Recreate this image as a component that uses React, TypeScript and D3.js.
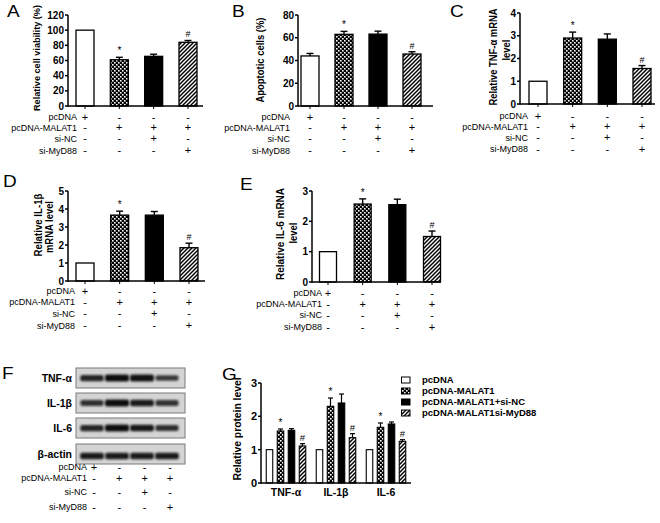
import * as d3 from 'd3';

// rows of the treatment table under each bar chart
const rowLabels = ['pcDNA', 'pcDNA-MALAT1', 'si-NC', 'si-MyD88'];
const signs = [
  ['+', '-', '-', '-'],
  ['-', '+', '+', '+'],
  ['-', '-', '+', '-'],
  ['-', '-', '-', '+'],
];
const marks = ['', '*', '', '#'];

// panel A-E values
const viability = [100, 61, 65.5, 84];
const viabilityErr = [0, 3.2, 2.8, 2.4];
const apoptosis = [44, 63, 63.2, 45.7];
const apoptosisErr = [2.2, 2.6, 2.6, 2];
const tnfMrna = [1, 2.9, 2.85, 1.56];
const tnfMrnaErr = [0, 0.26, 0.23, 0.13];
const il1bMrna = [1, 3.66, 3.66, 1.85];
const il1bMrnaErr = [0, 0.22, 0.2, 0.25];
const il6Mrna = [1, 2.57, 2.55, 1.5];
const il6MrnaErr = [0, 0.17, 0.18, 0.18];

// panel G values
const proteins = ['TNF-α', 'IL-1β', 'IL-6'];
const legendLabels = ['pcDNA', 'pcDNA-MALAT1', 'pcDNA-MALAT1+si-NC', 'pcDNA-MALAT1si-MyD88'];
const proteinLevels = [
  [1, 1.56, 1.58, 1.11],
  [1, 2.3, 2.4, 1.36],
  [1, 1.67, 1.77, 1.25],
];
const proteinErrs = [
  [0, 0.06, 0.05, 0.07],
  [0, 0.25, 0.27, 0.12],
  [0, 0.13, 0.06, 0.05],
];

// panel F blot
const blotLabels = ['TNF-α', 'IL-1β', 'IL-6', 'β-actin'];
const bandStrength = [
  [0.75, 1, 0.95, 0.55],
  [0.65, 1, 0.85, 0.6],
  [0.75, 1, 0.9, 0.65],
  [0.85, 0.85, 0.85, 0.85],
];

const fills = ['white', 'url(#checker)', 'black', 'url(#hatch)'];
const FONT = '"Liberation Sans", Arial, sans-serif';

interface PanelCfg {
  letter: string;
  lx: number;
  ly: number;
  axisX: number;
  y0: number;
  yTop: number;
  yMax: number;
  step: number;
  c0: number;
  c3: number;
  barW: number;
  axisEnd: number;
  labelRight: number;
  rows: number[];
  title: string[];
  titleX: number[];
  titleY: number[];
  titleLen: number[];
  titleSize: number;
  values: number[];
  errs: number[];
}

const panels: PanelCfg[] = [
  {
    letter: 'A', lx: 7, ly: 17, axisX: 68, y0: 106, yTop: 15, yMax: 120, step: 20,
    c0: 85, c3: 188, barW: 18, axisEnd: 203, labelRight: 77, rows: [117, 127.5, 138.5, 150.5],
    title: ['Relative cell viability (%)'], titleX: [37], titleY: [58], titleLen: [106], titleSize: 9.4,
    values: viability, errs: viabilityErr,
  },
  {
    letter: 'B', lx: 232, ly: 17, axisX: 298, y0: 106, yTop: 15, yMax: 80, step: 20,
    c0: 310, c3: 412, barW: 18, axisEnd: 433, labelRight: 290, rows: [117, 127.5, 138.5, 150.5],
    title: ['Apoptotic cells (%)'], titleX: [260], titleY: [60], titleLen: [85], titleSize: 10,
    values: apoptosis, errs: apoptosisErr,
  },
  {
    letter: 'C', lx: 450, ly: 17, axisX: 520, y0: 104, yTop: 13, yMax: 4, step: 1,
    c0: 538, c3: 642, barW: 18, axisEnd: 655, labelRight: 528, rows: [116, 126.5, 137.5, 149],
    title: ['Relative TNF-α mRNA', 'level'], titleX: [493, 506], titleY: [57, 50], titleLen: [97, 21],
    titleSize: 10,
    values: tnfMrna, errs: tnfMrnaErr,
  },
  {
    letter: 'D', lx: 3, ly: 187, axisX: 68, y0: 281, yTop: 191, yMax: 5, step: 1,
    c0: 85, c3: 189, barW: 18, axisEnd: 205, labelRight: 75, rows: [291, 302, 313.5, 325.5],
    title: ['Relative IL-1β', 'mRNA level'], titleX: [38, 49], titleY: [225, 227], titleLen: [63, 52],
    titleSize: 10,
    values: il1bMrna, errs: il1bMrnaErr,
  },
  {
    letter: 'E', lx: 240, ly: 190, axisX: 312, y0: 282, yTop: 191, yMax: 3, step: 1,
    c0: 328, c3: 432, barW: 17, axisEnd: 441, labelRight: 322, rows: [293, 304, 315, 327],
    title: ['Relative IL-6 mRNA', 'level'], titleX: [280, 293], titleY: [234, 233], titleLen: [92, 21],
    titleSize: 10,
    values: il6Mrna, errs: il6MrnaErr,
  },
];

function Letter({ t, x, y }: { t: string; x: number; y: number }) {
  return (
    <text transform={`translate(${x},${y}) scale(1,0.85)`} fontSize={19} fontFamily={FONT}>
      {t}
    </text>
  );
}

function RotTitle({ t, x, y, len, size }: { t: string; x: number; y: number; len: number; size: number }) {
  return (
    <text
      transform={`translate(${x},${y}) rotate(-90)`}
      textAnchor="middle"
      dy="0.35em"
      fontSize={size}
      fontWeight="bold"
      fontFamily={FONT}
      textLength={len}
      lengthAdjust="spacingAndGlyphs"
    >
      {t}
    </text>
  );
}

function BarPanel({ cfg }: { cfg: PanelCfg }) {
  const y = d3.scaleLinear().domain([0, cfg.yMax]).range([cfg.y0, cfg.yTop]);
  const x = d3.scaleLinear().domain([0, 3]).range([cfg.c0, cfg.c3]);
  const ticks = d3.range(0, cfg.yMax + 1e-9, cfg.step);
  return (
    <g>
      <Letter t={cfg.letter} x={cfg.lx} y={cfg.ly} />
      {cfg.values.map((v, i) => (
        <rect
          key={'b' + i}
          x={x(i) - cfg.barW / 2}
          y={y(v)}
          width={cfg.barW}
          height={y(0) - y(v)}
          fill={fills[i]}
          stroke="black"
          strokeWidth={1.3}
        />
      ))}
      {cfg.values.map((v, i) =>
        cfg.errs[i] > 0 ? (
          <g key={'e' + i} stroke="black" strokeWidth={1.4}>
            <line x1={x(i)} x2={x(i)} y1={y(v)} y2={y(v + cfg.errs[i])} />
            <line x1={x(i) - 3.5} x2={x(i) + 3.5} y1={y(v + cfg.errs[i])} y2={y(v + cfg.errs[i])} />
          </g>
        ) : null
      )}
      {cfg.values.map((v, i) =>
        marks[i] ? (
          <text
            key={'m' + i}
            x={x(i)}
            y={y(v + cfg.errs[i]) - 3}
            textAnchor="middle"
            fontSize={marks[i] === '*' ? 10 : 9}
            fontFamily={FONT}
          >
            {marks[i]}
          </text>
        ) : null
      )}
      <g stroke="black" strokeWidth={1.5}>
        <line x1={cfg.axisX} x2={cfg.axisX} y1={cfg.y0 + 0.75} y2={cfg.yTop} />
        <line x1={cfg.axisX} x2={cfg.axisEnd} y1={cfg.y0} y2={cfg.y0} />
        {ticks.map((t) => (
          <line key={'t' + t} x1={cfg.axisX - 3} x2={cfg.axisX} y1={y(t)} y2={y(t)} />
        ))}
        {cfg.values.map((_, i) => (
          <line key={'xt' + i} x1={x(i)} x2={x(i)} y1={cfg.y0} y2={cfg.y0 + 3} strokeWidth={1} />
        ))}
      </g>
      {ticks.map((t) => (
        <text
          key={'tl' + t}
          x={cfg.axisX - 4}
          y={y(t)}
          dy="0.35em"
          textAnchor="end"
          fontSize={10}
          fontWeight="bold"
          fontFamily={FONT}
        >
          {t}
        </text>
      ))}
      {cfg.title.map((t, i) => (
        <RotTitle
          key={'ti' + i}
          t={t}
          x={cfg.titleX[i]}
          y={cfg.titleY[i]}
          len={cfg.titleLen[i]}
          size={cfg.titleSize}
        />
      ))}
      {rowLabels.map((lab, r) => (
        <g key={'r' + r} fontFamily={FONT}>
          <text x={cfg.labelRight} y={cfg.rows[r]} dy="0.35em" textAnchor="end" fontSize={9}>
            {lab}
          </text>
          {signs[r].map((s, i) => (
            <text key={i} x={x(i)} y={cfg.rows[r]} dy="0.35em" textAnchor="middle" fontSize={11}>
              {s}
            </text>
          ))}
        </g>
      ))}
    </g>
  );
}

function BlotPanel() {
  const lane = d3.scaleLinear().domain([0, 3]).range([92, 167]);
  const signX = d3.scaleLinear().domain([0, 3]).range([94, 170]);
  const boxTop = [368, 393, 418, 444];
  const boxH = 20;
  const rows = [467, 478, 492, 507];
  return (
    <g fontFamily={FONT}>
      <Letter t="F" x={2} y={379} />
      {blotLabels.map((lab, p) => (
        <g key={p}>
          <text
            x={72}
            y={boxTop[p] + boxH / 2}
            dy="0.35em"
            textAnchor="end"
            fontSize={10.5}
            fontWeight="bold"
          >
            {lab}
          </text>
          <rect x={76} y={boxTop[p]} width={109} height={boxH} fill="#d4d4d4" stroke="#7a7a7a" strokeWidth={1} />
          {bandStrength[p].map((s, i) => (
            <rect
              key={i}
              x={lane(i) - 11 - s}
              y={boxTop[p] + boxH / 2 + (p === 3 ? 2 : 0) - (2 + 1.5 * s)}
              width={22 + 2 * s}
              height={4 + 3 * s}
              rx={2}
              fill="#111"
              opacity={0.5 + 0.5 * s}
              filter="url(#blur)"
            />
          ))}
        </g>
      ))}
      {rowLabels.map((lab, r) => (
        <g key={'r' + r}>
          <text x={87} y={rows[r]} dy="0.35em" textAnchor="end" fontSize={9}>
            {lab}
          </text>
          {signs[r].map((s, i) => (
            <text key={i} x={signX(i)} y={rows[r]} dy="0.35em" textAnchor="middle" fontSize={11}>
              {s}
            </text>
          ))}
        </g>
      ))}
    </g>
  );
}

function ProteinPanel() {
  const axisX = 261;
  const y = d3.scaleLinear().domain([0, 3]).range([483, 383]);
  const gx = d3.scaleLinear().domain([0, 2]).range([286, 386]);
  const off = d3.scaleLinear().domain([0, 3]).range([-16.5, 16.5]);
  const barW = 6.5;
  const ticks = [0, 1, 2, 3];
  return (
    <g fontFamily={FONT}>
      <Letter t="G" x={222} y={380} />
      {proteinLevels.map((vals, g) =>
        vals.map((v, i) => {
          const cx = gx(g) + off(i);
          const e = proteinErrs[g][i];
          return (
            <g key={g + '-' + i}>
              <rect
                x={cx - barW / 2}
                y={y(v)}
                width={barW}
                height={y(0) - y(v)}
                fill={fills[i]}
                stroke="black"
                strokeWidth={1.1}
              />
              {e > 0 ? (
                <g stroke="black" strokeWidth={1.2}>
                  <line x1={cx} x2={cx} y1={y(v)} y2={y(v + e)} />
                  <line x1={cx - 2.5} x2={cx + 2.5} y1={y(v + e)} y2={y(v + e)} />
                </g>
              ) : null}
              {marks[i] ? (
                <text x={cx} y={y(v + e) - 3} textAnchor="middle" fontSize={marks[i] === '*' ? 10 : 9.5}>
                  {marks[i]}
                </text>
              ) : null}
            </g>
          );
        })
      )}
      <g stroke="black" strokeWidth={1.5}>
        <line x1={axisX} x2={axisX} y1={y(0) + 0.75} y2={y(3)} />
        <line x1={axisX} x2={411} y1={y(0)} y2={y(0)} />
        {ticks.map((t) => (
          <line key={t} x1={axisX - 3} x2={axisX} y1={y(t)} y2={y(t)} />
        ))}
      </g>
      {ticks.map((t) => (
        <text key={t} x={axisX - 4} y={y(t)} dy="0.35em" textAnchor="end" fontSize={11} fontWeight="bold">
          {t}
        </text>
      ))}
      {proteins.map((p, g) => (
        <text key={p} x={gx(g)} y={492} dy="0.35em" textAnchor="middle" fontSize={10.5} fontWeight="bold">
          {p}
        </text>
      ))}
      <RotTitle t="Relative protein level" x={237} y={429} len={103} size={10.5} />
      {legendLabels.map((lab, i) => (
        <g key={lab}>
          <rect x={401.5} y={377 + i * 11} width={8.5} height={6} fill={fills[i]} stroke="black" strokeWidth={1} />
          <text x={422} y={380 + i * 11} dy="0.35em" fontSize={9.5} fontWeight="bold">
            {lab}
          </text>
        </g>
      ))}
    </g>
  );
}

export default function App() {
  return (
    <svg
      width={660}
      height={523}
      viewBox="0 0 660 523"
      style={{ position: 'absolute', left: 0, top: 0, background: 'white' }}
    >
      <defs>
        <pattern id="checker" width={4} height={4} patternUnits="userSpaceOnUse">
          <rect width={4} height={4} fill="black" />
          <rect width={1.6} height={1.6} fill="white" />
          <rect x={2} y={2} width={1.6} height={1.6} fill="white" />
        </pattern>
        <pattern id="hatch" width={4} height={4} patternUnits="userSpaceOnUse">
          <rect width={4} height={4} fill="white" />
          <path d="M-1,1 l2,-2 M0,4 l4,-4 M3,5 l2,-2" stroke="black" strokeWidth={1.5} />
        </pattern>
        <filter id="blur" x="-30%" y="-80%" width="160%" height="260%">
          <feGaussianBlur stdDeviation="1.1" />
        </filter>
      </defs>
      {panels.map((p) => (
        <BarPanel key={p.letter} cfg={p} />
      ))}
      <BlotPanel />
      <ProteinPanel />
    </svg>
  );
}
